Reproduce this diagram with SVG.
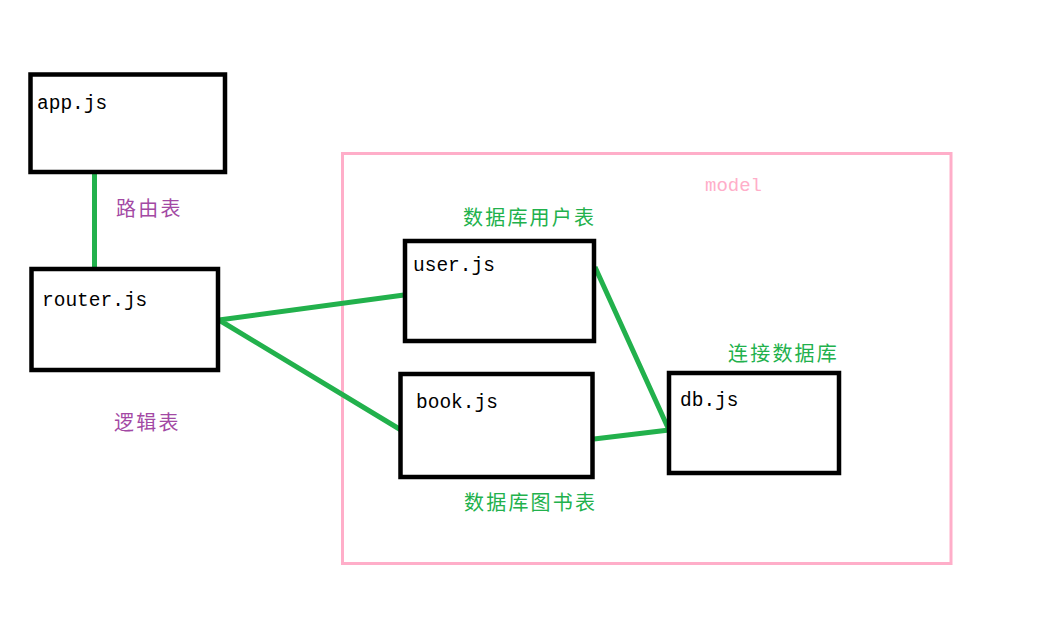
<svg xmlns="http://www.w3.org/2000/svg" width="1049" height="620" viewBox="0 0 1049 620">
<style>
.box{fill:#fff;stroke:#000;stroke-width:4.5}
.mono{font-family:"Liberation Mono","DejaVu Sans Mono",monospace;font-size:19.5px;fill:#000}
.cjk{font-family:"Noto Sans CJK SC",sans-serif;font-size:20px;letter-spacing:2.2px}
.g{fill:#22b14c}
.p{fill:#a349a4}
.conn{stroke:#22b14c;stroke-width:5;fill:none;stroke-linecap:butt;stroke-linejoin:round}
</style>
<rect width="1049" height="620" fill="#fff"/>
<g id="model">
<rect x="342.5" y="153.5" width="608.5" height="410" fill="none" stroke="#ffaec9" stroke-width="3"/>
<text x="705" y="191" class="mono" style="fill:#ffaec9;font-size:19px">model</text>
</g>
<g id="connectors">
<line class="conn" x1="94.5" y1="174" x2="94.5" y2="270"/>
<polyline class="conn" points="404,295 219,320 401,430"/>
<polyline class="conn" points="595,267 669,430 594,439"/>
</g>
<g id="app">
<rect class="box" x="30.5" y="74.5" width="194.5" height="97.5"/>
<text x="37" y="109" class="mono">app.js</text>
</g>
<g id="router">
<rect class="box" x="31.5" y="269" width="186.5" height="101"/>
<text x="42" y="306" class="mono">router.js</text>
</g>
<g id="user">
<rect class="box" x="405" y="241" width="189" height="100"/>
<text x="413" y="271" class="mono">user.js</text>
</g>
<g id="book">
<rect class="box" x="400.5" y="374" width="192" height="103"/>
<text x="416" y="408" class="mono">book.js</text>
</g>
<g id="db">
<rect class="box" x="669" y="373" width="170" height="100"/>
<text x="680" y="406" class="mono">db.js</text>
</g>
<g id="labels">
<text x="116" y="215.5" class="cjk p">路由表</text>
<text x="114" y="430" class="cjk p">逻辑表</text>
<text x="463" y="225" class="cjk g">数据库用户表</text>
<text x="464" y="510" class="cjk g">数据库图书表</text>
<text x="728" y="360.5" class="cjk g">连接数据库</text>
</g>
</svg>
